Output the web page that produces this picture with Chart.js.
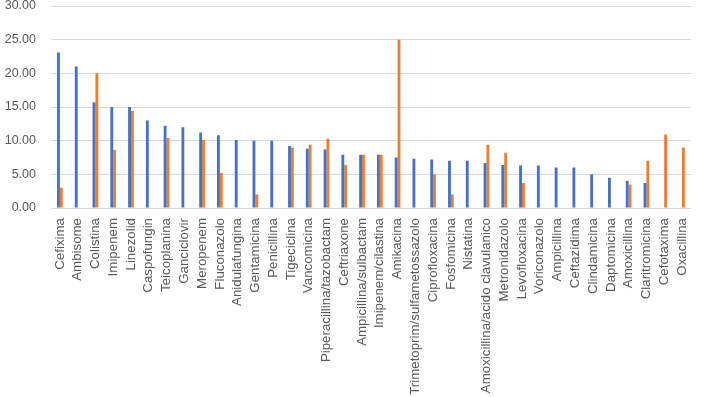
<!DOCTYPE html>
<html>
<head>
<meta charset="utf-8">
<script src="https://cdn.jsdelivr.net/npm/chart.js@4"></script>
<style>
  html, body { margin: 0; padding: 0; background: #fff; }
  #wrap { width: 708px; height: 397px; }
</style>
</head>
<body>
<div id="wrap"><canvas id="chart" width="708" height="397"></canvas></div>
<script>
const categories = ['Cefixima', 'Ambisome', 'Colistina', 'Imipenem', 'Linezolid', 'Caspofungin',
    'Teicoplanina', 'Ganciclovir', 'Meropenem', 'Fluconazolo', 'Anidulafungina', 'Gentamicina',
    'Penicillina', 'Tigeciclina', 'Vancomicina', 'Piperacillina/tazobactam', 'Ceftriaxone',
    'Ampicillina/sulbactam', 'Imipenem/cilastina', 'Amikacina', 'Trimetoprim/sulfametossazolo',
    'Ciprofloxacina', 'Fosfomicina', 'Nistatina', 'Amoxicillina/acido clavulanico', 'Metronidazolo',
    'Levofloxacina', 'Voriconazolo', 'Ampicillina', 'Ceftazidima', 'Clindamicina', 'Daptomicina',
    'Amoxicillina', 'Claritromicina', 'Cefotaxima', 'Oxacillina'];

const seriesBlue = [23.1, 21.0, 15.7, 15.0, 15.0, 13.0, 12.2, 12.0, 11.2, 10.8, 10.1, 10.0,
    10.0, 9.2, 8.8, 8.7, 7.9, 7.9, 7.9, 7.5, 7.3, 7.2, 7.0, 7.0, 6.7, 6.4,
    6.3, 6.3, 6.0, 6.0, 5.0, 4.5, 4.0, 3.7, null, null];

const seriesOrange = [3.0, null, 20.0, 8.6, 14.4, null, 10.4, null, 10.1, 5.2, null, 2.0,
    null, 9.0, 9.4, 10.3, 6.4, 7.9, 7.9, 25.0, null, 5.0, 2.0, null, 9.4, 8.2,
    3.7, null, null, null, null, null, 3.5, 7.0, 10.9, 9.0];

const yTicks = [0, 5, 10, 15, 20, 25, 30];

const ctx = document.getElementById('chart').getContext('2d');

new Chart(ctx, {
    type: 'bar',
    data: {
        labels: categories,
        datasets: [{
            label: 'Serie 1',
            data: seriesBlue,
            backgroundColor: '#4472C4',
            categoryPercentage: 0.32,
            barPercentage: 1.0
        }, {
            label: 'Serie 2',
            data: seriesOrange,
            backgroundColor: '#ED7D31',
            categoryPercentage: 0.32,
            barPercentage: 1.0
        }]
    },
    options: {
        responsive: false,
        animation: false,
        layout: { padding: { top: 0, right: 6, left: 0, bottom: 0 } },
        plugins: {
            legend: { display: false },
            tooltip: { enabled: false }
        },
        scales: {
            x: {
                grid: { display: false, drawTicks: false },
                border: { color: '#D9D9D9' },
                ticks: {
                    autoSkip: false,
                    maxRotation: 90,
                    minRotation: 90,
                    padding: 10,
                    color: '#595959',
                    font: { family: 'Liberation Sans, Arial, sans-serif', size: 13.3 }
                },
                afterFit: function (scale) { scale.height = 189; }
            },
            y: {
                min: 0,
                max: 30,
                afterBuildTicks: function (scale) {
                    scale.ticks = yTicks.map(v => ({ value: v }));
                },
                grid: { color: '#D9D9D9', drawTicks: false },
                border: { display: false },
                ticks: {
                    padding: 15,
                    color: '#595959',
                    font: { family: 'Liberation Sans, Arial, sans-serif', size: 12.5 },
                    callback: v => v.toFixed(2)
                },
                afterFit: function (scale) {
                    scale.width = 51;
                    scale.paddingTop = 6;
                }
            }
        }
    }
});
</script>
</body>
</html>
